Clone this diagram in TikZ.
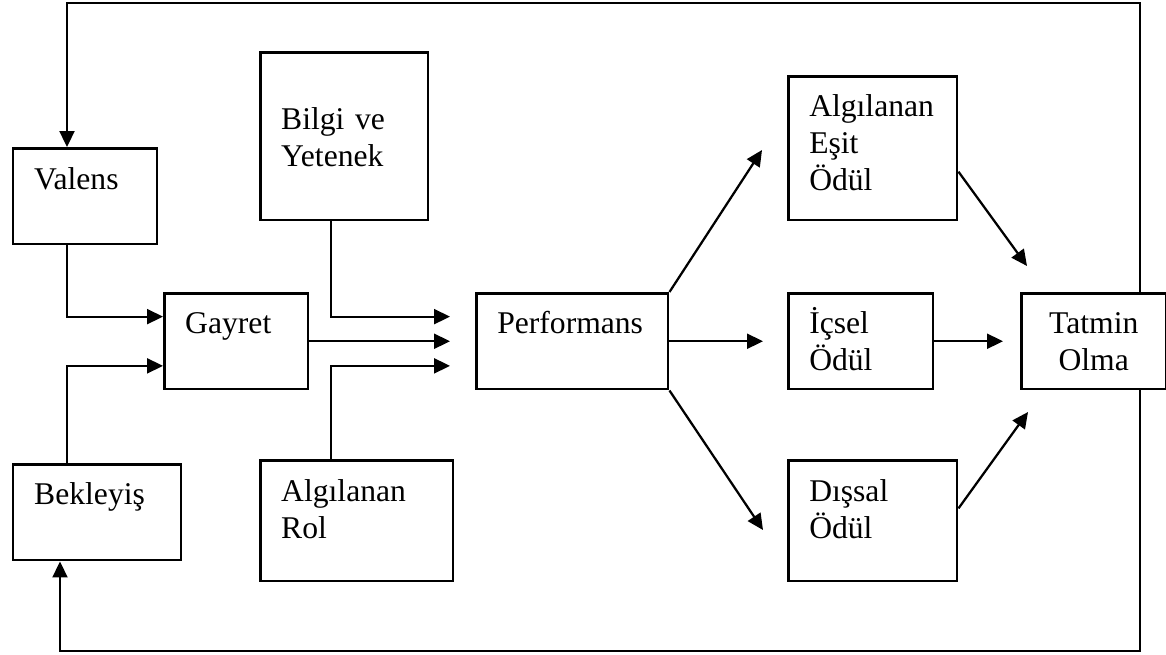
\documentclass[tikz,border=0pt]{standalone}
\usepackage{fontspec}
\setmainfont{Liberation Serif}
\usetikzlibrary{arrows.meta, calc}
\tikzset{
  block/.style={rectangle, draw=black, line width=0.05cm, anchor=north west, align=left, inner xsep=0.42cm, inner ysep=0pt, font=\fontsize{18}{21}\selectfont},
  arrow/.style={line width=0.045cm, ->, >={Triangle[length=0.32cm, width=0.3cm]}}
}
\begin{document}
\begin{tikzpicture}[x=0.02cm, y=-0.02cm]

  \useasboundingbox (0,0) rectangle (1166,654);

  \node (val) [block, text width=2.04cm, text height=0.82cm, text depth=1.10cm] at (12,147) {Valens};
  \node (bek) [block, text width=2.52cm, text height=0.80cm, text depth=1.12cm] at (12,463) {Bekleyiş};
  \node (gay) [block, text width=2.04cm, text height=0.80cm, text depth=1.12cm] at (163,292) {Gayret};
  \node (bil) [block, text width=2.52cm, text height=1.54cm, text depth=1.82cm] at (259,51) {Bilgi ve\\Yetenek};
  \node (rol) [block, text width=3.02cm, text height=0.82cm, text depth=1.60cm] at (259,459) {Algılanan\\Rol};
  \node (perf) [block, text width=3.00cm, text height=0.80cm, text depth=1.12cm] at (475,292) {Performans};
  \node (esit) [block, text width=2.54cm, text height=0.80cm, text depth=2.08cm] at (787,75) {Algılanan\\Eşit\\Ödül};
  \node (icsel) [block, text width=2.06cm, text height=0.80cm, text depth=1.12cm] at (787,292) {İçsel\\Ödül};
  \node (dis) [block, text width=2.54cm, text height=0.82cm, text depth=1.60cm] at (787,459) {Dışsal\\Ödül};
  \node (tat) [block, align=center, text width=2.06cm, text height=0.80cm, text depth=1.12cm] at (1020,292) {Tatmin\\Olma};

  \coordinate (topL) at (67,3);
  \coordinate (topR) at (1140,3);
  \coordinate (botR) at (1140,651);
  \coordinate (botL) at (60,651);
  \coordinate (inL) at (331,340);
  \coordinate (toEsit) at (762,150);
  \coordinate (toDis) at (763,530);
  \coordinate (toTatA) at (1027,266);
  \coordinate (toTatB) at (1028,412);

  \draw [arrow] (tat.north -| topR) -- (topR) -- (topL) -- (topL |- val.north);
  \draw [arrow] (tat.south -| botR) -- (botR) -- (botL) -- (botL |- bek.south);
  \draw [arrow] (val.south -| topL) |- ($(gay.north west)!0.25!(gay.south west)$);
  \draw [arrow] (bek.north -| topL) |- ($(gay.north west)!0.75!(gay.south west)$);
  \draw [arrow, shorten >=0.5cm] (bil.south -| inL) |- ($(perf.north west)!0.25!(perf.south west)$);
  \draw [arrow, shorten >=0.5cm] (gay.east) -- (perf.west);
  \draw [arrow, shorten >=0.5cm] (rol.north -| inL) |- ($(perf.north west)!0.75!(perf.south west)$);
  \draw [arrow] (perf.north east) -- (toEsit);
  \draw [arrow, shorten >=0.48cm] (perf.east) -- (icsel.west);
  \draw [arrow] (perf.south east) -- (toDis);
  \draw [arrow] ($(esit.north east)!0.66!(esit.south east)$) -- (toTatA);
  \draw [arrow, shorten >=0.34cm] (icsel.east) -- (tat.west);
  \draw [arrow] ($(dis.north east)!0.4!(dis.south east)$) -- (toTatB);

\end{tikzpicture}
\end{document}
